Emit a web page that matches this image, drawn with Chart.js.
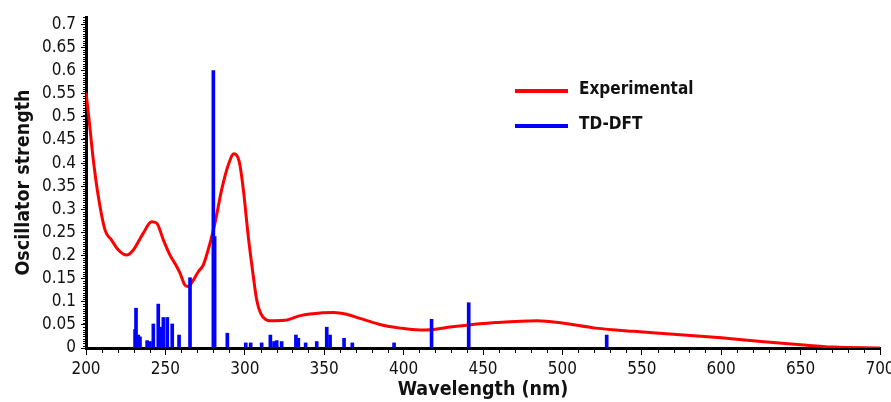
<!DOCTYPE html>
<html>
<head>
<meta charset="utf-8">
<script src="https://cdn.jsdelivr.net/npm/chart.js@4.4.1/dist/chart.umd.min.js"></script>
<style>
  body { margin: 0; background: #fff; }
  canvas { display: block; }
</style>
</head>
<body>
<canvas id="spectrumChart" width="891" height="402"></canvas>
<script>
// Experimental absorption curve (normalised)
const expWavelength = [200, 201.5, 204.6, 207.8, 212, 216, 220.4, 225.6, 229.8, 236, 241.3, 244.5, 248.7, 252.9, 256, 259.2, 262.3, 264.4, 267.6, 270.7, 273.9, 278.1, 281.2, 285.4, 289.6, 293.2, 296.5, 299.1, 302.2, 305.4, 307.5, 310, 313.5, 316, 325, 335, 349, 356, 364, 372.5, 385, 398, 410, 419, 428, 441, 458, 484, 500, 521, 545, 570, 600, 625, 650, 670, 700];
const expValue = [0.552, 0.508, 0.407, 0.327, 0.255, 0.234, 0.212, 0.201, 0.212, 0.248, 0.273, 0.270, 0.234, 0.201, 0.183, 0.162, 0.136, 0.133, 0.147, 0.165, 0.180, 0.227, 0.270, 0.342, 0.396, 0.420, 0.403, 0.342, 0.241, 0.154, 0.104, 0.075, 0.061, 0.059, 0.060, 0.070, 0.076, 0.077, 0.073, 0.064, 0.051, 0.043, 0.039, 0.040, 0.045, 0.050, 0.055, 0.059, 0.054, 0.043, 0.036, 0.030, 0.022, 0.014, 0.007, 0.002, 0];

// TD-DFT transitions (stick spectrum)
const tdWavelength = [230.9, 231.5, 232.9, 234, 238.5, 240.3, 242.4, 245.5, 247, 248.7, 251.2, 254.3, 258.6, 265.5, 280.2, 281, 289, 300.6, 303.7, 310.6, 316.1, 318.4, 320.1, 323.2, 332.2, 333.7, 338.3, 345.3, 351.6, 353.7, 362.5, 367.7, 394, 417.6, 441, 527.9];
const tdValue = [0.040, 0.086, 0.028, 0.024, 0.016, 0.014, 0.052, 0.095, 0.045, 0.066, 0.066, 0.052, 0.028, 0.152, 0.600, 0.241, 0.032, 0.011, 0.011, 0.011, 0.028, 0.014, 0.016, 0.014, 0.028, 0.021, 0.011, 0.014, 0.045, 0.028, 0.021, 0.011, 0.011, 0.062, 0.098, 0.028];

const seriesNames = ['Experimental', 'TD-DFT'];
const seriesColors = ['#ff0000', '#0000ff'];

const FONT = "'DejaVu Sans Condensed', 'DejaVu Sans', sans-serif";
const INK = '#111';

// small unlabelled ticks between the major ones
const minorTicks = {
  id: 'minorTicks',
  afterDraw(chart) {
    const ctx = chart.ctx;
    const xs = chart.scales.x, ys = chart.scales.y;
    const area = chart.chartArea;
    ctx.save();
    ctx.strokeStyle = '#000';
    ctx.lineWidth = 1;
    ctx.beginPath();
    for (let v = 200; v <= 700; v += 10) {
      if (v % 50 === 0) continue;
      const px = Math.round(xs.getPixelForValue(v)) + 0.5;
      ctx.moveTo(px, area.bottom);
      ctx.lineTo(px, area.bottom + 5);
    }
    for (let i = 0; i <= 143; i++) {
      if (i % 10 === 0) continue;
      const py = Math.round(ys.getPixelForValue(i * 0.005)) + 0.5;
      ctx.moveTo(area.left - 3, py);
      ctx.lineTo(area.left, py);
    }
    ctx.stroke();
    ctx.restore();
  }
};

// legend sits inside the plot, right of the main peak
const insideLegend = {
  id: 'insideLegend',
  afterDraw(chart) {
    const ctx = chart.ctx;
    ctx.save();
    ctx.font = 'bold 17px ' + FONT;
    ctx.textBaseline = 'middle';
    seriesNames.forEach((name, i) => {
      const y = 91 + i * 35;
      ctx.strokeStyle = seriesColors[i];
      ctx.lineWidth = 4;
      ctx.beginPath();
      ctx.moveTo(515, y);
      ctx.lineTo(568, y);
      ctx.stroke();
      ctx.fillStyle = INK;
      ctx.fillText(name, 579, y - 1);
    });
    ctx.restore();
  }
};

const ctx = document.getElementById('spectrumChart').getContext('2d');
const spectrumChart = new Chart(ctx, {
  type: 'bar',
  data: {
    datasets: [{
      type: 'line',
      label: seriesNames[0],
      data: expWavelength.map((w, i) => ({ x: w, y: expValue[i] })),
      borderColor: seriesColors[0],
      borderWidth: 3,
      pointRadius: 0,
      cubicInterpolationMode: 'monotone',
      fill: false,
      order: 1
    }, {
      type: 'bar',
      label: seriesNames[1],
      data: tdWavelength.map((w, i) => ({ x: w, y: tdValue[i] })),
      backgroundColor: seriesColors[1],
      borderWidth: 0,
      barThickness: 3,
      order: 0
    }]
  },
  options: {
    responsive: false,
    animation: false,
    devicePixelRatio: 1,
    layout: { padding: { top: 17, right: 11, left: 0, bottom: 0 } },
    plugins: {
      legend: { display: false },
      tooltip: { enabled: false }
    },
    scales: {
      x: {
        type: 'linear',
        min: 200,
        max: 700,
        offset: false,
        grid: { offset: false, drawOnChartArea: false, drawTicks: true, tickLength: 7, color: '#000' },
        border: { color: '#000', width: 3 },
        ticks: { stepSize: 50, autoSkip: false, maxRotation: 0, padding: 4, color: INK, font: { family: FONT, size: 17 } },
        title: { display: true, text: 'Wavelength (nm)', color: INK, padding: 0, font: { family: FONT, size: 19.5, weight: 'bold' } },
        afterFit(scale) {
          scale.height = 54;
          // let the last label run off the edge instead of shrinking the plot
          scale.paddingRight = 0;
        }
      },
      y: {
        min: 0,
        max: 0.716,
        grid: { drawOnChartArea: false, drawTicks: true, tickLength: 5, color: '#000' },
        border: { color: '#000', width: 3 },
        ticks: {
          stepSize: 0.05,
          includeBounds: false,
          autoSkip: false,
          padding: 5,
          color: INK,
          font: { family: FONT, size: 17 },
          callback: v => String(+v.toFixed(2))
        },
        title: { display: true, text: 'Oscillator strength', color: INK, padding: { top: 12, bottom: 0 }, font: { family: FONT, size: 19.5, weight: 'bold' } },
        afterFit(scale) { scale.width = 86; }
      }
    }
  },
  plugins: [minorTicks, insideLegend]
});
</script>
</body>
</html>
